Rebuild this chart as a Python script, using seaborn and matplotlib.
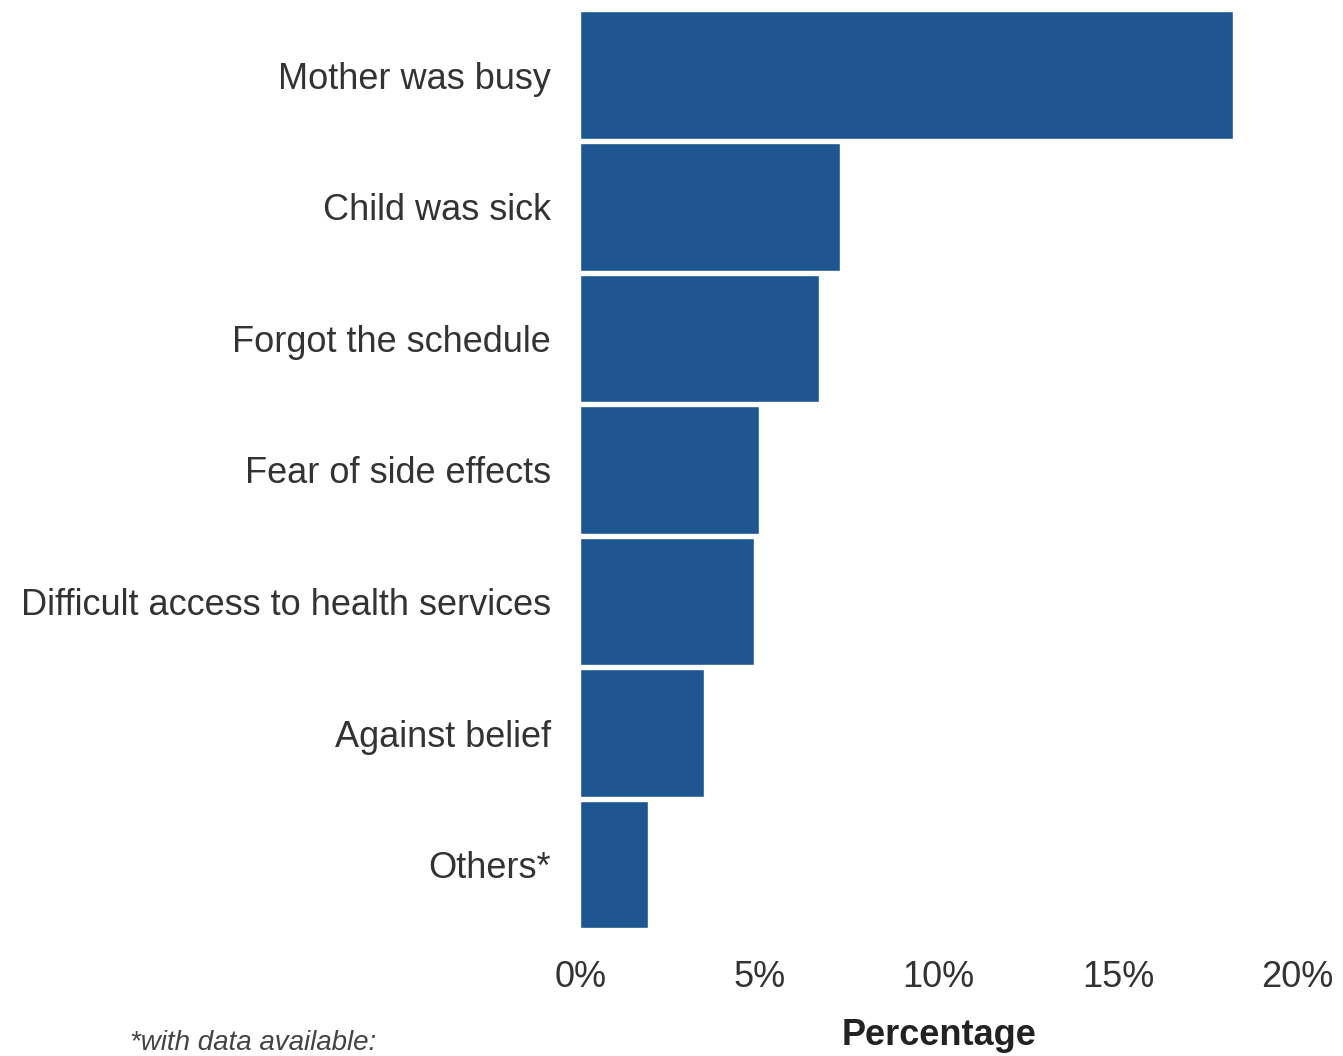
import matplotlib
matplotlib.use('Agg')
import matplotlib.pyplot as plt
import seaborn as sns
import pandas as pd
from matplotlib.ticker import PercentFormatter

# Reasons for missed vaccination
reasons = [
    "Mother was busy",
    "Child was sick",
    "Forgot the schedule",
    "Fear of side effects",
    "Difficult access to health services",
    "Against belief",
    "Others*",
]
percentages = [18.2, 7.25, 6.65, 5.0, 4.85, 3.45, 1.9]
x_ticks = [0, 5, 10, 15, 20]

df = pd.DataFrame({"reason": reasons, "pct": percentages})

sns.set_style("white")
plt.rcParams['font.family'] = ['Liberation Sans', 'DejaVu Sans']

fig = plt.figure(figsize=(13.43, 10.56), dpi=100)
ax = fig.add_axes([0.432, 0.119, 0.534, 0.872])

sns.barplot(data=df, x="pct", y="reason", color="#1D5690", saturation=1,
            width=0.97, ax=ax)

ax.set_xlim(0, 20)
ax.set_ylim(6.5, -0.5)
ax.set_xticks(x_ticks)
ax.xaxis.set_major_formatter(PercentFormatter(decimals=0))
ax.tick_params(axis='both', length=0, labelsize=26, labelcolor="#333333")
ax.tick_params(axis='y', pad=21)
ax.tick_params(axis='x', pad=21)
ax.set_ylabel("")
ax.set_xlabel("Percentage", fontsize=26, fontweight='bold', color="#222222", labelpad=17)
sns.despine(ax=ax, left=True, bottom=True)

fig.text(0.097, 0.0, "*with data available:", fontsize=20, style='italic',
         color="#444444", va='bottom')

fig.savefig("out.png", dpi=100)
